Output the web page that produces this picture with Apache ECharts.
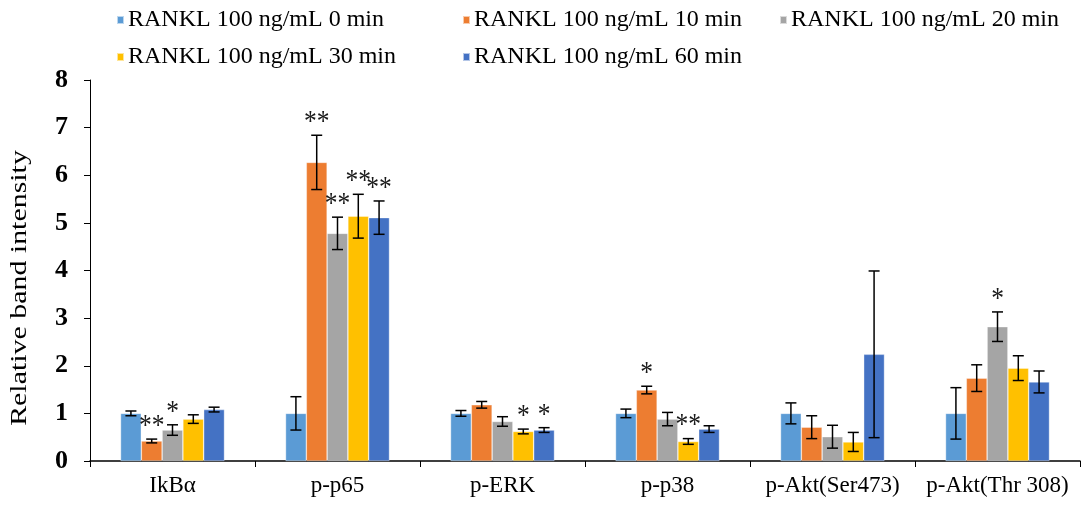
<!DOCTYPE html>
<html>
<head>
<meta charset="utf-8">
<script src="https://cdn.jsdelivr.net/npm/echarts@6/dist/echarts.min.js"></script>
<style>html,body{margin:0;padding:0;background:#fff;}#c{width:1083px;height:505px;}</style>
</head>
<body>
<div id="c"></div>
<script>
const categories = ['IkBα', 'p-p65', 'p-ERK', 'p-p38', 'p-Akt(Ser473)', 'p-Akt(Thr 308)'];
const seriesNames = ['RANKL 100 ng/mL 0 min', 'RANKL 100 ng/mL 10 min', 'RANKL 100 ng/mL 20 min', 'RANKL 100 ng/mL 30 min', 'RANKL 100 ng/mL 60 min'];
const colors = ['#5B9BD5', '#ED7D31', '#A5A5A5', '#FFC000', '#4472C4'];

const val0min  = [1.00, 1.00, 1.00, 1.00, 1.00, 1.00];
const val10min = [0.42, 6.27, 1.18, 1.49, 0.71, 1.74];
const val20min = [0.65, 4.78, 0.83, 0.88, 0.51, 2.82];
const val30min = [0.88, 5.14, 0.62, 0.41, 0.40, 1.95];
const val60min = [1.08, 5.11, 0.65, 0.67, 2.24, 1.66];

const err0min  = [0.05, 0.35, 0.06, 0.09, 0.22, 0.54];
const err10min = [0.04, 0.57, 0.07, 0.08, 0.24, 0.28];
const err20min = [0.11, 0.34, 0.10, 0.14, 0.24, 0.31];
const err30min = [0.09, 0.46, 0.05, 0.06, 0.20, 0.26];
const err60min = [0.05, 0.35, 0.05, 0.07, 1.75, 0.23];

const sig0min  = ['', '', '', '', '', ''];
const sig10min = ['**', '**', '', '*', '', ''];
const sig20min = ['*', '**', '', '', '', '*'];
const sig30min = ['', '**', '*', '**', '', ''];
const sig60min = ['', '**', '*', '', '', ''];

const yTicks = [0, 1, 2, 3, 4, 5, 6, 7, 8];
const yTitle = 'Relative band intensity';

const values = [val0min, val10min, val20min, val30min, val60min];
const errs = [err0min, err10min, err20min, err30min, err60min];
const sigs = [sig0min, sig10min, sig20min, sig30min, sig60min];

const SERIF = '"Liberation Serif", "Times New Roman", serif';
const chart = echarts.init(document.getElementById('c'));

const errData = [];
values.forEach((arr, s) => arr.forEach((v, c) => {
  errData.push([c, s, v - errs[s][c], v + errs[s][c]]);
}));

const barSeries = values.map((arr, s) => ({
  name: seriesNames[s],
  type: 'bar',
  data: arr,
  barGap: '0%',
  barCategoryGap: '37%',
  itemStyle: { color: colors[s], borderColor: 'rgba(255,255,255,0.6)', borderWidth: 0.6 },
  silent: true
}));

const errSeries = {
  type: 'custom',
  data: errData,
  z: 10,
  silent: true,
  renderItem: function (params, api) {
    const c = api.value(0), s = api.value(1), lo = api.value(2), hi = api.value(3);
    const band = api.size([1, 0])[0];
    const bw = band * 0.63 / 5;
    const x = api.coord([c, 0])[0] + (s - 2) * bw;
    const yLo = api.coord([c, lo])[1];
    const yHi = api.coord([c, hi])[1];
    const cap = 5.5;
    const ls = { stroke: '#000', lineWidth: 1.5 };
    const children = [
      { type: 'line', shape: { x1: x, y1: yLo, x2: x, y2: yHi }, style: ls },
      { type: 'line', shape: { x1: x - cap, y1: yLo, x2: x + cap, y2: yLo }, style: ls },
      { type: 'line', shape: { x1: x - cap, y1: yHi, x2: x + cap, y2: yHi }, style: ls }
    ];
    const sg = sigs[s][c];
    if (sg) {
      children.push({
        type: 'text', x: x, y: yHi + 2, scaleX: 0.85,
        style: { text: sg, fontFamily: SERIF, fontSize: 30, fill: '#1a1a1a', textAlign: 'center', textVerticalAlign: 'bottom' }
      });
    }
    return { type: 'group', children: children };
  }
};

// legend laid out in Excel-like columns
const legendPos = [[116, 8], [462, 8], [779, 8], [116, 45], [462, 45]];
const legends = seriesNames.map((n, i) => ({
  data: [n],
  left: legendPos[i][0],
  top: legendPos[i][1],
  padding: 0,
  icon: 'rect',
  itemWidth: 7,
  itemHeight: 8,
  selectedMode: false,
  textStyle: { fontFamily: SERIF, fontSize: 24, color: '#000', padding: [0, 0, 0, -1] }
}));

chart.setOption({
  animation: false,
  backgroundColor: '#fff',
  legend: legends,
  grid: { left: 90, right: 3, top: 80, bottom: 44, containLabel: false },
  xAxis: {
    type: 'category',
    data: categories,
    axisLine: { lineStyle: { color: '#000', width: 1.5 } },
    axisTick: { show: true, length: 6, lineStyle: { color: '#000' } },
    axisLabel: { interval: 0, color: '#000', fontFamily: SERIF, fontSize: 23, margin: 13 },
    splitLine: { show: false }
  },
  yAxis: {
    type: 'value',
    min: yTicks[0],
    max: yTicks[yTicks.length - 1],
    interval: 1,
    axisLine: { show: true, lineStyle: { color: '#000', width: 1 } },
    axisTick: { show: true, length: 6, lineStyle: { color: '#000' } },
    axisLabel: { color: '#000', fontFamily: SERIF, fontSize: 26, fontWeight: 'bold', margin: 22 },
    splitLine: { show: false }
  },
  graphic: [{ type: 'text', x: 20, y: 288, rotation: Math.PI / 2, scaleX: 1.3,
    style: { text: yTitle, fontFamily: SERIF, fontSize: 23, fill: '#000', textAlign: 'center', textVerticalAlign: 'middle' } }],
  series: barSeries.concat([errSeries])
});
</script>
</body>
</html>
